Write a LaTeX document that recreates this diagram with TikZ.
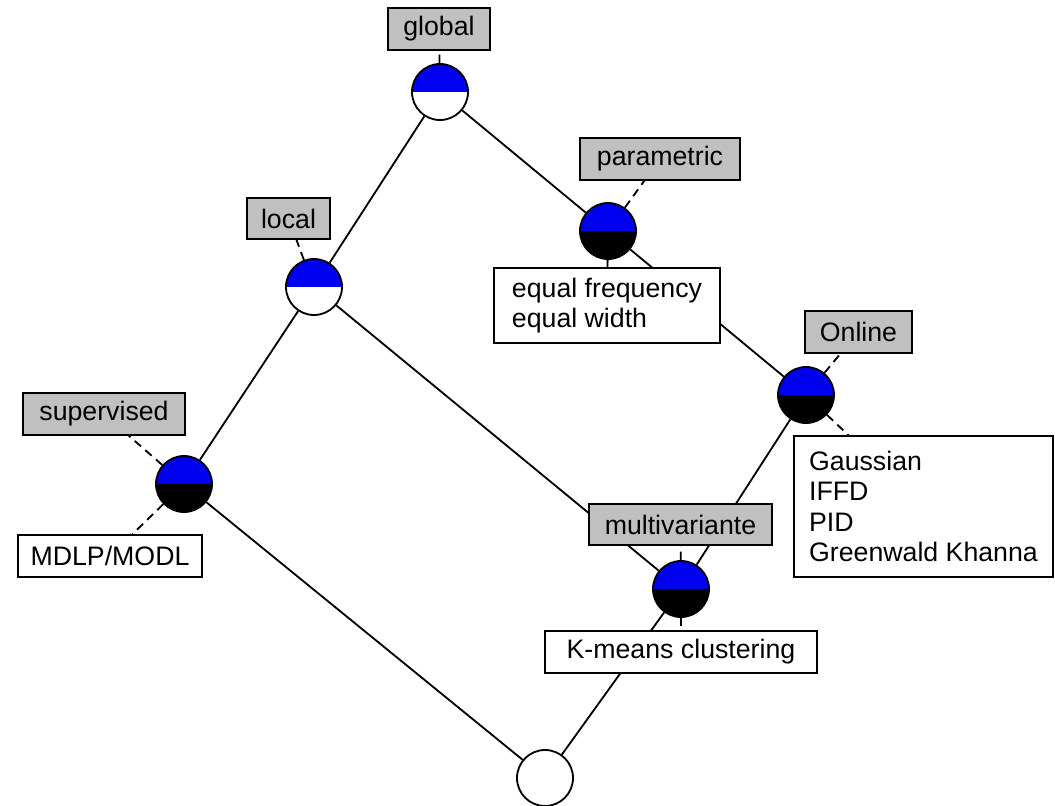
\documentclass[tikz,border=0pt]{standalone}
\usepackage{fontspec}
\usepackage{tikz}
\newfontfamily\lblfont{Liberation Sans}
\definecolor{labgray}{RGB}{192,192,192}
\definecolor{conblue}{RGB}{0,0,240}
\pgfdeclarelayer{bg}
\pgfsetlayers{bg,main}

\begin{document}
\begin{tikzpicture}[
  x=0.025cm, y=-0.025cm,
  line width=1.3pt,
  concept/.style={circle, draw, minimum size=1.4cm, inner sep=0pt,
    path picture={\fill[conblue] (path picture bounding box.west) rectangle (path picture bounding box.north east);}},
  halfw/.style={concept, fill=white},
  halfb/.style={concept, fill=black},
  empty/.style={circle, draw, fill=white, minimum size=1.4cm, inner sep=0pt},
  lab/.style={rectangle, draw, fill=labgray, inner sep=0pt, minimum height=1.03cm, font=\lblfont\fontsize{19}{21.6}\selectfont},
  ext/.style={rectangle, draw, fill=white, inner sep=0pt, minimum height=1.05cm, font=\lblfont\fontsize{19}{21.6}\selectfont},
  edge/.style={line width=1.3pt},
  tag/.style={line width=1.3pt, dash pattern=on 6pt off 4pt},
]
\useasboundingbox (0,0) rectangle (1055,805);

% concepts
\node[halfw] (global) at (440,92) {};
\node[halfw] (local) at (314,287) {};
\node[halfb] (param) at (608,231) {};
\node[halfb] (online) at (806,395) {};
\node[halfb] (sup) at (184,484) {};
\node[halfb] (multi) at (681,589) {};
\node[empty] (bottom) at (545,778) {};

% attribute labels
\node[lab, minimum width=2.55cm] (lglobal) at (439,29) {global};
\node[lab, minimum width=4cm] (lparam) at (660,159) {parametric};
\node[lab, minimum width=2.08cm] (llocal) at (288.5,218.5) {local};
\node[lab, minimum width=2.68cm] (lonline) at (858.5,332) {Online};
\node[lab, minimum width=4.05cm] (lsup) at (104,414) {supervised};
\node[lab, minimum width=4.58cm] (lmulti) at (680.5,524.5) {multivariante};

% object labels
\node[ext, align=left, minimum width=5.65cm, minimum height=1.88cm] (eparam) at (607,305.5) {equal frequency\\equal width};
\node[ext, align=left, minimum width=6.48cm, minimum height=3.52cm] (eonline) at (923.5,506.5) {Gaussian\\IFFD\\PID\\Greenwald Khanna};
\node[ext, minimum width=4.6cm] (esup) at (110,556) {MDLP/MODL};
\node[ext, minimum width=6.8cm] (emulti) at (681,652) {K-means clustering};

\begin{pgfonlayer}{bg}
\draw[edge] (global) -- (local);
\draw[edge] (global) -- (param);
\draw[edge] (param) -- (online);
\draw[edge] (local) -- (sup);
\draw[edge] (local) -- (multi);
\draw[edge] (online) -- (multi);
\draw[edge] (sup) -- (bottom);
\draw[edge] (multi) -- (bottom);

\draw[tag] (global) -- (lglobal);
\draw[tag] (local) -- (llocal);
\draw[tag] (param) -- (lparam);
\draw[tag] (param) -- (eparam);
\draw[tag] (online) -- (lonline);
\draw[tag] (online) -- (eonline);
\draw[tag] (sup) -- (lsup);
\draw[tag] (sup) -- (esup);
\draw[tag] (multi) -- (lmulti);
\draw[tag] (multi) -- (emulti);
\end{pgfonlayer}
\end{tikzpicture}
\end{document}
